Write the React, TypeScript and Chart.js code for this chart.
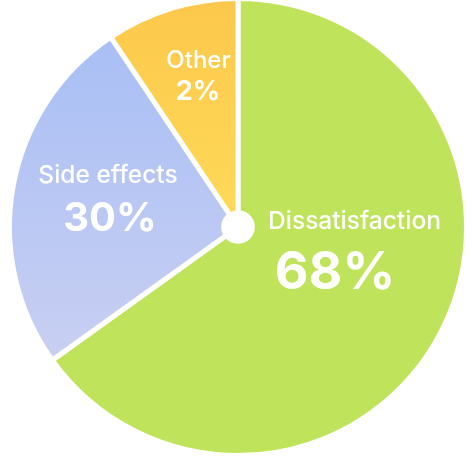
import React, { useEffect, useRef } from "react";
import { Chart, registerables } from "chart.js";

Chart.register(...registerables);

const categories = ["Dissatisfaction", "Side effects", "Other"];
const sliceValues = [65.1, 25.5, 9.4];
const percentLabels = ["68%", "30%", "2%"];

// styling (not data)
const labelStyles = [
  { nameDx: 116.5, nameDy: 1.5, nameSize: 24.5, pctDx: 97, pctDy: 62, pctSize: 52 },
  { nameDx: -130, nameDy: -44.5, nameSize: 24.5, pctDx: -128, pctDy: 4, pctSize: 40 },
  { nameDx: -39.5, nameDy: -159.5, nameSize: 24, pctDx: -40, pctDy: -127, pctSize: 27 },
];

const FONT = "Inter, 'Open Sans', Roboto, sans-serif";

const labelPlugin = {
  id: "sliceLabels",
  afterDatasetsDraw(chart: any) {
    const ctx = chart.ctx;
    const meta = chart.getDatasetMeta(0);
    ctx.save();
    ctx.fillStyle = "#ffffff";
    ctx.textAlign = "center";
    ctx.textBaseline = "alphabetic";
    meta.data.forEach((arc: any, i: number) => {
      const s = labelStyles[i];
      const cx = arc.x;
      const cy = arc.y;
      ctx.font = `500 ${s.nameSize}px ${FONT}`;
      ctx.fillText(categories[i], cx + s.nameDx, cy + s.nameDy);
      ctx.font = `700 ${s.pctSize}px ${FONT}`;
      ctx.fillText(percentLabels[i], cx + s.pctDx, cy + s.pctDy);
    });
    ctx.restore();
  },
};

function gradientFor(index: number, chart: any) {
  const { ctx } = chart;
  if (index === 0) return "#bfe35b";
  if (index === 1) {
    const g = ctx.createLinearGradient(0, 40, 0, 358);
    g.addColorStop(0, "#a9bff5");
    g.addColorStop(1, "#c8cff2");
    return g;
  }
  const g = ctx.createLinearGradient(0, 0, 0, 227);
  g.addColorStop(0, "#fcc84b");
  g.addColorStop(1, "#feda58");
  return g;
}

export default function App() {
  const canvasRef = useRef<HTMLCanvasElement | null>(null);

  useEffect(() => {
    if (!canvasRef.current) return;
    const chart = new Chart(canvasRef.current, {
      type: "doughnut",
      data: {
        labels: categories,
        datasets: [
          {
            data: sliceValues,
            backgroundColor: (c: any) => gradientFor(c.dataIndex, c.chart),
            borderColor: "#ffffff",
            borderWidth: 5,
            borderJoinStyle: "miter",
          } as any,
        ],
      },
      options: {
        responsive: false,
        animation: false,
        cutout: 14,
        radius: 228.5,
        rotation: 0,
        layout: { padding: { left: 12, right: 9, top: 1, bottom: 6 } },
        plugins: {
          legend: { display: false },
          tooltip: { enabled: false },
        },
        events: [],
      },
      plugins: [labelPlugin],
    });
    return () => chart.destroy();
  }, []);

  return (
    <div style={{ position: "fixed", left: 0, top: 0, width: 473, height: 459, background: "#ffffff" }}>
      <canvas ref={canvasRef} width={473} height={459} style={{ width: 473, height: 459, display: "block" }} />
    </div>
  );
}
